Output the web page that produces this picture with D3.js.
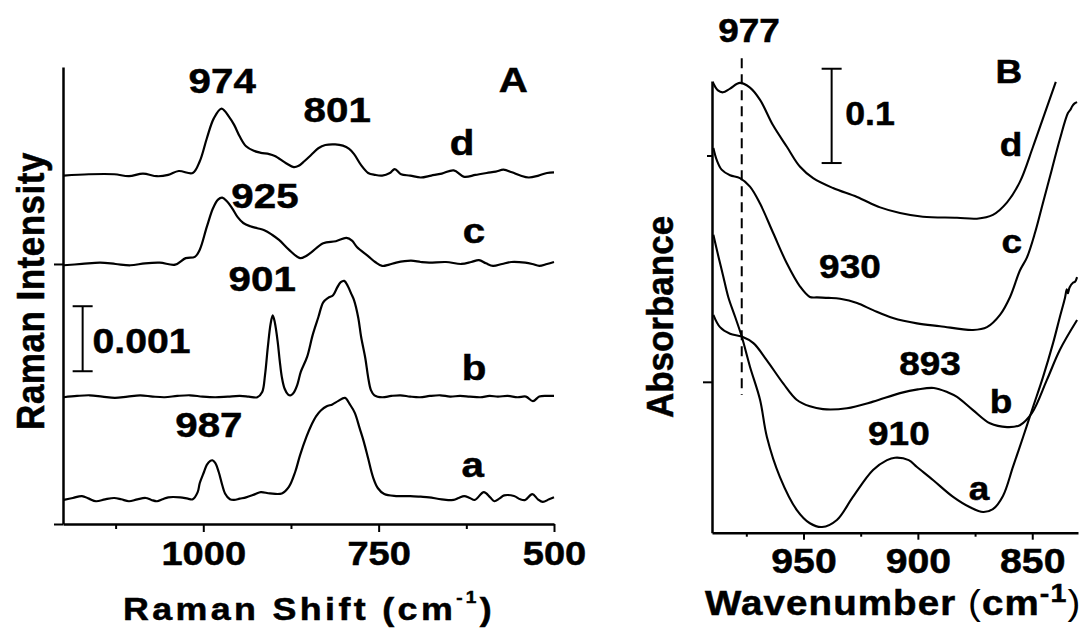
<!DOCTYPE html>
<html>
<head>
<meta charset="utf-8">
<script src="https://cdn.jsdelivr.net/npm/d3@7"></script>
<style>
  body { margin: 0; background: #fff; }
  svg { display: block; }
  text { font-family: "Liberation Sans", Arial, Helvetica, sans-serif; font-weight: bold; fill: #000;
         stroke: #000; stroke-width: 0.5px; }
</style>
</head>
<body>
<svg id="chart" width="1089" height="641"></svg>
<script>
// ---------- Panel A: Raman spectra ----------
// [Raman shift (cm-1), intensity (x1e-3) above the trace's own baseline]
const ramanTraceA = [[1199,-0.02],[1186,0.01],[1173,0.04],[1163,0.0],[1153,-0.04],[1140,-0.01],[1127,0.01],[1117,-0.01],[1106,-0.04],[1094,-0.01],[1082,0.01],[1074,-0.02],[1066,-0.04],[1058,-0.01],[1050,0.02],[1033,0.02],[1022,0.0],[1015,-0.01],[1008,0.10],[1005,0.24],[999,0.41],[995,0.52],[990,0.58],[987,0.59],[983,0.55],[978,0.41],[973,0.21],[969,0.08],[962,-0.01],[956,-0.02],[948,0.0],[939,0.02],[926,0.07],[918,0.10],[905,0.08],[888,0.08],[878,0.18],[869,0.41],[862,0.67],[853,0.95],[846,1.13],[839,1.27],[832,1.36],[824,1.42],[816,1.45],[808,1.50],[798,1.55],[791,1.45],[784,1.32],[777,1.08],[771,0.87],[765,0.62],[758,0.33],[751,0.16],[742,0.07],[725,0.04],[705,0.04],[690,0.03],[678,0.02],[660,-0.01],[643,-0.02],[636,0.01],[628,0.04],[620,0.01],[613,-0.02],[600,0.10],[591,0.02],[585,-0.04],[578,0.0],[571,0.05],[557,0.04],[548,-0.01],[541,-0.02],[531,0.07],[523,-0.01],[516,-0.05],[507,-0.01],[500,0.02]];
const ramanTraceB = [[1199,-0.01],[1180,0.01],[1162,0.02],[1144,0.0],[1126,-0.02],[1108,0.0],[1090,0.02],[1072,0.0],[1055,-0.01],[1037,0.01],[1019,0.02],[1001,0.0],[983,-0.01],[965,0.0],[948,0.01],[935,0.0],[923,-0.01],[916,0.07],[912,0.33],[908,0.76],[904,1.12],[901,1.25],[898,1.14],[894,0.85],[891,0.55],[888,0.30],[884,0.12],[879,0.03],[875,0.02],[871,0.06],[866,0.18],[861,0.38],[852,0.61],[844,0.95],[836,1.22],[829,1.45],[822,1.52],[815,1.56],[809,1.68],[804,1.76],[799,1.78],[794,1.70],[789,1.58],[785,1.48],[779,1.21],[775,0.92],[769,0.59],[765,0.30],[761,0.10],[756,0.02],[745,-0.01],[732,0.01],[719,0.02],[705,0.0],[691,-0.01],[677,0.01],[662,0.02],[648,0.0],[634,0.01],[620,0.0],[605,-0.01],[592,0.01],[580,0.0],[566,0.01],[552,-0.01],[540,0.0],[530,-0.07],[521,0.0],[510,0.01],[500,0.01]];
const ramanTraceC = [[1199,-0.02],[1173,0.0],[1147,0.02],[1125,0.0],[1104,-0.02],[1083,0.01],[1062,0.02],[1040,-0.01],[1025,0.09],[1012,0.11],[1005,0.22],[995,0.57],[986,0.86],[979,0.99],[973,1.02],[966,0.96],[959,0.86],[951,0.72],[943,0.63],[933,0.58],[923,0.55],[913,0.52],[902,0.45],[892,0.37],[878,0.22],[862,0.09],[854,0.12],[846,0.18],[829,0.32],[811,0.35],[796,0.40],[788,0.36],[781,0.26],[765,0.12],[755,0.03],[745,-0.03],[735,-0.01],[725,0.02],[704,0.05],[690,0.03],[678,0.02],[654,0.03],[632,0.0],[618,0.03],[607,0.06],[597,0.01],[587,-0.03],[574,0.0],[561,0.03],[541,0.02],[531,0.0],[521,-0.03],[510,0.0],[500,0.03]];
const ramanTraceD = [[1199,-0.02],[1163,0.0],[1127,0.0],[1106,-0.03],[1086,0.01],[1066,-0.03],[1050,-0.01],[1035,0.05],[1015,0.02],[1005,0.20],[995,0.55],[985,0.86],[974,1.01],[963,0.88],[956,0.76],[948,0.58],[939,0.43],[928,0.36],[918,0.33],[906,0.31],[898,0.28],[882,0.17],[871,0.11],[864,0.13],[856,0.20],[846,0.30],[836,0.40],[826,0.45],[812,0.46],[801,0.44],[792,0.39],[785,0.31],[775,0.14],[765,0.02],[755,-0.01],[745,-0.02],[734,0.02],[727,0.08],[718,0.0],[705,-0.02],[690,-0.05],[675,-0.02],[660,0.01],[643,0.06],[628,-0.04],[612,-0.01],[596,0.02],[583,0.04],[572,0.07],[560,0.03],[548,-0.02],[536,-0.05],[522,-0.02],[510,0.02],[500,0.03]];
const ramanNames = ["a", "b", "c", "d"];
const ramanOffsets = [0.39, 1.96, 4.0, 5.38];           // vertical stacking, x1e-3
const ramanTicks = [1000, 750, 500];
const ramanMinorTicks = [1125, 875, 625];
const ramanYTicks = [0, 4];
const ramanScaleBar = 1;                               // 0.001 intensity units

// ---------- Panel B: IR absorbance spectra ----------
// [wavenumber (cm-1), absorbance]
const irTraceA = [[989.4,0.316],[987.2,0.293],[985.1,0.272],[982.9,0.250],[979.9,0.229],[977.0,0.208],[973.4,0.176],[969.0,0.141],[966.0,0.1015],[960.3,0.059],[952.9,0.024],[947.2,0.010],[941.9,0.006],[935.4,0.0135],[928.4,0.038],[919.6,0.0665],[913.5,0.077],[910,0.0795],[904,0.077],[900.4,0.0697],[893.4,0.0559],[884.6,0.038],[877.2,0.027],[871.5,0.022],[867.2,0.025],[862.8,0.039],[858.4,0.070],[854.0,0.1015],[849.7,0.133],[845.3,0.165],[840.9,0.201],[837.9,0.229],[835.7,0.249],[834.9,0.258],[834.4,0.254],[833.7,0.260],[832.2,0.265],[831.3,0.266],[830.4,0.271]];
const irTraceB = [[989.4,0.231],[986.5,0.218],[982.1,0.211],[977.0,0.208],[971.9,0.201],[966.1,0.183],[958.8,0.158],[953.0,0.141],[947.2,0.134],[941.5,0.131],[931.0,0.132],[919.6,0.139],[907.8,0.148],[900,0.152],[893,0.1535],[887,0.149],[882.9,0.144],[875.9,0.130],[868.5,0.116],[861.0,0.112],[855.4,0.114],[850.1,0.127],[843.6,0.162],[837.9,0.194],[830.4,0.2255]];
const irTraceC = [[989.4,0.408],[987.9,0.395],[985.8,0.385],[982.1,0.379],[977.8,0.376],[973.4,0.367],[969.0,0.349],[963.2,0.3175],[957.3,0.2857],[951.5,0.261],[947.2,0.250],[944.1,0.2495],[939,0.249],[934.0,0.248],[926.6,0.2436],[919.6,0.236],[910.9,0.2277],[900.4,0.222],[890.3,0.219],[875.9,0.215],[869.8,0.218],[864.1,0.231],[859.7,0.250],[855.4,0.278],[852.3,0.292],[848.8,0.318],[845.3,0.350],[841.4,0.3855],[837.9,0.4175],[834.4,0.445],[833.2,0.449],[832.6,0.452],[831.6,0.455],[830.4,0.4566]];
const irTraceD = [[989.7,0.478],[987.4,0.469],[985.2,0.467],[982.1,0.471],[977.8,0.477],[973.4,0.472],[969.0,0.459],[963.3,0.432],[957.2,0.409],[951.5,0.388],[945.8,0.376],[937.1,0.3655],[926.6,0.356],[916.5,0.345],[907.8,0.339],[897.8,0.335],[882.9,0.334],[874.2,0.333],[867.2,0.337],[861.1,0.350],[855.4,0.372],[849.7,0.409],[844.5,0.445],[839.7,0.478]];
const irTicks = [950, 900, 850];
const irMinorTicks = [975, 925, 875];
const irYTicks = [0.16];
const irYMinorTicks = [0.40];
const irMarker = 977;                                   // dashed reference line
const irScaleBar = 0.1;

// ---------- layout ----------
const STRETCH = 1.12;     // horizontal widening of the lettering
const svg = d3.select("#chart");
svg.append("rect").attr("width", 1089).attr("height", 641).attr("fill", "#fff");

const xA = d3.scaleLinear().domain([1200, 500]).range([63, 554]);
const yA = d3.scaleLinear().domain([0, 7.03]).range([524, 67]);
const xB = d3.scaleLinear().domain([990, 830]).range([712, 1078]);
const yB = d3.scaleLinear().domain([0, 0.479]).range([532.7, 81]);

function label(g, txt, x, y, size, anchor = "middle", stretch = STRETCH) {
  return g.append("text")
    .attr("transform", `translate(${x},${y}) scale(${stretch},1)`)
    .attr("text-anchor", anchor)
    .style("font-size", size + "px")
    .text(txt);
}

function styleAxis(sel, fontSize, stretch = STRETCH) {
  sel.attr("font-size", null).attr("font-family", null);
  sel.select(".domain").attr("stroke", "#000").attr("stroke-width", 2.5);
  sel.selectAll(".tick line").attr("stroke", "#000").attr("stroke-width", 2);
  sel.selectAll(".tick text").style("font-size", fontSize + "px")
    .attr("fill", "#000").attr("transform", `scale(${stretch},1)`);
}

function scaleBar(g, x, y0, y1) {
  g.append("line").attr("x1", x).attr("x2", x).attr("y1", y0).attr("y2", y1);
  g.append("line").attr("x1", x - 10).attr("x2", x + 10).attr("y1", y0).attr("y2", y0);
  g.append("line").attr("x1", x - 10).attr("x2", x + 10).attr("y1", y1).attr("y2", y1);
  g.selectAll("line").attr("stroke", "#000").attr("stroke-width", 2);
}

// ---------- Panel A ----------
const gA = svg.append("g");

gA.append("g").attr("transform", `translate(0,${yA(0)})`)
  .call(d3.axisBottom(xA).tickValues(ramanMinorTicks).tickSize(5).tickSizeOuter(0).tickFormat(""))
  .call(s => { s.select(".domain").remove(); s.selectAll("line").attr("stroke", "#000").attr("stroke-width", 2); });
gA.append("g").attr("transform", `translate(0,${yA(0)})`)
  .call(d3.axisBottom(xA).tickValues(ramanTicks).tickSize(8).tickPadding(9).tickSizeOuter(0).tickFormat(d3.format("d")))
  .call(s => styleAxis(s, 34));
gA.append("g").attr("transform", `translate(${xA(1200)},0)`)
  .call(d3.axisLeft(yA).tickValues(ramanYTicks).tickSize(9).tickSizeOuter(0).tickFormat(""))
  .call(s => styleAxis(s, 34));

const lineA = d3.line().curve(d3.curveCatmullRom.alpha(0.5));
[ramanTraceA, ramanTraceB, ramanTraceC, ramanTraceD].forEach((trace, i) => {
  gA.append("path")
    .attr("d", lineA(trace.map(([s, v]) => [xA(s), yA(v + ramanOffsets[i])])))
    .attr("fill", "none").attr("stroke", "#000").attr("stroke-width", 2.2)
    .attr("stroke-linejoin", "round");
});

scaleBar(gA, xA(1172), yA(2.35), yA(2.35 + ramanScaleBar));
label(gA, "0.001", xA(1158), yA(2.63), 35, "start");

// peak and trace annotations (positions in data units)
const ramanLabels = [
  ["974", 973, 6.63, 36], ["801", 809, 6.18, 36], ["925", 912, 4.86, 36],
  ["901", 916, 3.58, 36], ["987", 992, 1.34, 36],
  ["A", 558, 6.65, 36],
  ["d", 631, 5.68, 36], ["c", 614, 4.32, 36], ["b", 614, 2.21, 36], ["a", 616, 0.72, 36]
];
ramanLabels.forEach(([t, s, v, f]) => label(gA, t, xA(s), yA(v), f));

// axis titles
const tA = gA.append("text")
  .attr("transform", `translate(44,291) scale(1.1,1) rotate(-90)`)
  .attr("text-anchor", "middle").style("font-size", "35px").style("letter-spacing", "0.5px");
tA.text("Raman Intensity");

const sA = gA.append("text")
  .attr("transform", `translate(123,620) scale(${STRETCH},1)`)
  .style("font-size", "32px").style("letter-spacing", "3px");
sA.append("tspan").text("Raman Shift (cm");
sA.append("tspan").attr("dy", -17).style("font-size", "17px").text("-1");
sA.append("tspan").attr("dy", 17).text(")");

// ---------- Panel B ----------
const gB = svg.append("g");

gB.append("g").attr("transform", `translate(0,${yB(0)})`)
  .call(d3.axisBottom(xB).tickValues(irMinorTicks).tickSize(4).tickSizeOuter(0).tickFormat(""))
  .call(s => { s.select(".domain").remove(); s.selectAll("line").attr("stroke", "#000").attr("stroke-width", 2); });
gB.append("g").attr("transform", `translate(0,${yB(0)})`)
  .call(d3.axisBottom(xB).tickValues(irTicks).tickSize(7).tickPadding(8).tickSizeOuter(0).tickFormat(d3.format("d")))
  .call(s => styleAxis(s, 35));
gB.append("g").attr("transform", `translate(${xB(990)},0)`)
  .call(d3.axisLeft(yB).tickValues(irYMinorTicks).tickSize(5).tickSizeOuter(0).tickFormat(""))
  .call(s => { s.select(".domain").remove(); s.selectAll("line").attr("stroke", "#000").attr("stroke-width", 2); });
gB.append("g").attr("transform", `translate(${xB(990)},0)`)
  .call(d3.axisLeft(yB).tickValues(irYTicks).tickSize(9).tickSizeOuter(0).tickFormat(""))
  .call(s => styleAxis(s, 34));

// dashed reference line at the 977 band
gB.append("line")
  .attr("x1", xB(irMarker)).attr("x2", xB(irMarker))
  .attr("y1", yB(0.503)).attr("y2", yB(0.146))
  .attr("stroke", "#000").attr("stroke-width", 2.4).attr("stroke-dasharray", "10,6");

const lineB = d3.line().curve(d3.curveCatmullRom.alpha(0.5));
[irTraceA, irTraceB, irTraceC, irTraceD].forEach(trace => {
  gB.append("path")
    .attr("d", lineB(trace.map(([w, a]) => [xB(w), yB(a)])))
    .attr("fill", "none").attr("stroke", "#000").attr("stroke-width", 2.1)
    .attr("stroke-linejoin", "round");
});

scaleBar(gB, xB(937.7), yB(0.392), yB(0.392 + irScaleBar));
label(gB, "0.1", xB(931.8), yB(0.432), 34, "start", 1.05);

const irLabels = [
  ["977", 973.8, 0.520], ["B", 860.2, 0.477], ["d", 859.3, 0.399], ["c", 858.9, 0.2966],
  ["930", 929.7, 0.270], ["893", 894.7, 0.167], ["b", 863.7, 0.127],
  ["910", 908.3, 0.0929], ["a", 873.3, 0.0347]
];
irLabels.forEach(([t, w, a]) => label(gB, t, xB(w), yB(a), 33));

const tB = gB.append("text")
  .attr("transform", `translate(673,317) scale(1.05,1) rotate(-90)`)
  .attr("text-anchor", "middle").style("font-size", "35px");
tB.text("Absorbance");

const sB = gB.append("text")
  .attr("transform", `translate(705,615) scale(1.1,1)`)
  .style("font-size", "35px").style("letter-spacing", "1px");
sB.append("tspan").text("Wavenumber ");
sB.append("tspan").style("font-weight", "normal").style("stroke-width", "0px").text("(");
sB.append("tspan").text("cm");
sB.append("tspan").attr("dy", -13).style("font-size", "26px").text("-1");
sB.append("tspan").attr("dy", 13).style("font-weight", "normal").style("stroke-width", "0px").text(")");
</script>
</body>
</html>
